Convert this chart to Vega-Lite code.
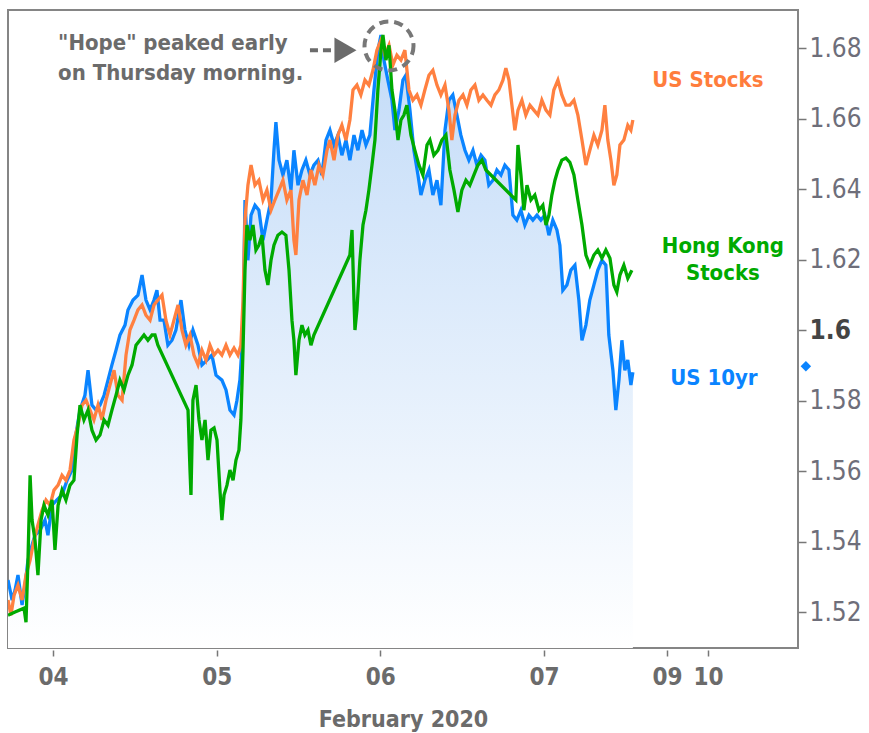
{
"$schema": "https://vega.github.io/schema/vega-lite/v6.json",
"width": 790, "height": 638,
"autosize": {"type": "none"},
"padding": {"left": 8, "top": 10, "right": 71, "bottom": 85},
"background": "white",
"config": {"view": {"stroke": "#858585", "strokeWidth": 2}, "font": "DejaVu Sans Condensed"},
"datasets": {
"us10": [
{"t":3.725,"v":1.5291},{"t":3.750,"v":1.5234},{"t":3.768,"v":1.5262},{"t":3.786,"v":1.5305},{"t":3.811,"v":1.5220},{"t":3.829,"v":1.5276},{"t":3.847,"v":1.5347},{"t":3.872,"v":1.5390},{"t":3.890,"v":1.5418},{"t":3.921,"v":1.5432},{"t":3.951,"v":1.5461},{"t":3.969,"v":1.5418},{"t":3.994,"v":1.5503},{"t":4.024,"v":1.5518},{"t":4.055,"v":1.5532},{"t":4.086,"v":1.5574},{"t":4.116,"v":1.5603},{"t":4.134,"v":1.5688},{"t":4.165,"v":1.5773},{"t":4.195,"v":1.5815},{"t":4.214,"v":1.5886},{"t":4.238,"v":1.5787},{"t":4.263,"v":1.5773},{"t":4.287,"v":1.5787},{"t":4.312,"v":1.5815},{"t":4.336,"v":1.5858},{"t":4.360,"v":1.5901},{"t":4.385,"v":1.5943},{"t":4.409,"v":1.5986},{"t":4.440,"v":1.6014},{"t":4.458,"v":1.6057},{"t":4.489,"v":1.6085},{"t":4.519,"v":1.6099},{"t":4.544,"v":1.6156},{"t":4.568,"v":1.6085},{"t":4.593,"v":1.6057},{"t":4.617,"v":1.6085},{"t":4.635,"v":1.6113},{"t":4.654,"v":1.6028},{"t":4.678,"v":1.6028},{"t":4.702,"v":1.5957},{"t":4.727,"v":1.5971},{"t":4.751,"v":1.6000},{"t":4.782,"v":1.6085},{"t":4.806,"v":1.6000},{"t":4.831,"v":1.5957},{"t":4.855,"v":1.6000},{"t":4.886,"v":1.5957},{"t":4.910,"v":1.5901},{"t":4.941,"v":1.5915},{"t":4.971,"v":1.5929},{"t":4.996,"v":1.5872},{"t":5.032,"v":1.5858},{"t":5.057,"v":1.5830},{"t":5.081,"v":1.5773},{"t":5.106,"v":1.5759},{"t":5.124,"v":1.5801},{"t":5.142,"v":1.5858},{"t":5.161,"v":1.6000},{"t":5.173,"v":1.6369},{"t":5.191,"v":1.6198},{"t":5.210,"v":1.6326},{"t":5.234,"v":1.6354},{"t":5.258,"v":1.6340},{"t":5.283,"v":1.6255},{"t":5.307,"v":1.6312},{"t":5.332,"v":1.6369},{"t":5.350,"v":1.6510},{"t":5.362,"v":1.6590},{"t":5.381,"v":1.6482},{"t":5.405,"v":1.6440},{"t":5.429,"v":1.6482},{"t":5.454,"v":1.6397},{"t":5.472,"v":1.6510},{"t":5.497,"v":1.6411},{"t":5.521,"v":1.6454},{"t":5.545,"v":1.6482},{"t":5.570,"v":1.6440},{"t":5.594,"v":1.6468},{"t":5.619,"v":1.6482},{"t":5.643,"v":1.6440},{"t":5.668,"v":1.6539},{"t":5.692,"v":1.6567},{"t":5.717,"v":1.6525},{"t":5.741,"v":1.6553},{"t":5.765,"v":1.6496},{"t":5.790,"v":1.6539},{"t":5.814,"v":1.6482},{"t":5.839,"v":1.6553},{"t":5.863,"v":1.6510},{"t":5.888,"v":1.6567},{"t":5.912,"v":1.6525},{"t":5.936,"v":1.6553},{"t":5.961,"v":1.6681},{"t":5.985,"v":1.6794},{"t":6.004,"v":1.6837},{"t":6.022,"v":1.6766},{"t":6.046,"v":1.6709},{"t":6.071,"v":1.6652},{"t":6.089,"v":1.6567},{"t":6.114,"v":1.6624},{"t":6.138,"v":1.6709},{"t":6.156,"v":1.6723},{"t":6.181,"v":1.6624},{"t":6.205,"v":1.6510},{"t":6.230,"v":1.6440},{"t":6.248,"v":1.6383},{"t":6.272,"v":1.6425},{"t":6.297,"v":1.6454},{"t":6.321,"v":1.6383},{"t":6.346,"v":1.6425},{"t":6.370,"v":1.6354},{"t":6.395,"v":1.6567},{"t":6.419,"v":1.6652},{"t":6.443,"v":1.6667},{"t":6.468,"v":1.6610},{"t":6.492,"v":1.6553},{"t":6.517,"v":1.6510},{"t":6.541,"v":1.6482},{"t":6.566,"v":1.6510},{"t":6.590,"v":1.6468},{"t":6.615,"v":1.6496},{"t":6.639,"v":1.6482},{"t":6.663,"v":1.6411},{"t":6.688,"v":1.6425},{"t":6.712,"v":1.6454},{"t":6.737,"v":1.6440},{"t":6.761,"v":1.6468},{"t":6.786,"v":1.6454},{"t":6.810,"v":1.6326},{"t":6.834,"v":1.6312},{"t":6.859,"v":1.6340},{"t":6.883,"v":1.6298},{"t":6.908,"v":1.6326},{"t":6.932,"v":1.6312},{"t":6.957,"v":1.6326},{"t":6.981,"v":1.6312},{"t":7.005,"v":1.6326},{"t":7.030,"v":1.6269},{"t":7.054,"v":1.6312},{"t":7.079,"v":1.6284},{"t":7.097,"v":1.6241},{"t":7.115,"v":1.6113},{"t":7.140,"v":1.6128},{"t":7.164,"v":1.6170},{"t":7.189,"v":1.6184},{"t":7.213,"v":1.6085},{"t":7.232,"v":1.5971},{"t":7.256,"v":1.6014},{"t":7.280,"v":1.6085},{"t":7.305,"v":1.6128},{"t":7.329,"v":1.6170},{"t":7.354,"v":1.6198},{"t":7.378,"v":1.6184},{"t":7.396,"v":1.5986},{"t":7.421,"v":1.5886},{"t":7.439,"v":1.5773},{"t":7.458,"v":1.5858},{"t":7.476,"v":1.5971},{"t":7.494,"v":1.5886},{"t":7.512,"v":1.5915},{"t":7.531,"v":1.5844},{"t":7.543,"v":1.5880}
],
"usstk": [
{"t":3.725,"v":1.5234},{"t":3.743,"v":1.5191},{"t":3.762,"v":1.5248},{"t":3.786,"v":1.5276},{"t":3.811,"v":1.5234},{"t":3.835,"v":1.5305},{"t":3.860,"v":1.5347},{"t":3.884,"v":1.5404},{"t":3.908,"v":1.5447},{"t":3.933,"v":1.5489},{"t":3.957,"v":1.5518},{"t":3.982,"v":1.5503},{"t":4.006,"v":1.5546},{"t":4.031,"v":1.5560},{"t":4.055,"v":1.5588},{"t":4.079,"v":1.5574},{"t":4.104,"v":1.5603},{"t":4.128,"v":1.5688},{"t":4.153,"v":1.5730},{"t":4.177,"v":1.5787},{"t":4.202,"v":1.5801},{"t":4.226,"v":1.5773},{"t":4.250,"v":1.5745},{"t":4.275,"v":1.5787},{"t":4.299,"v":1.5745},{"t":4.324,"v":1.5801},{"t":4.348,"v":1.5844},{"t":4.373,"v":1.5886},{"t":4.397,"v":1.5815},{"t":4.422,"v":1.5801},{"t":4.446,"v":1.5929},{"t":4.470,"v":1.6000},{"t":4.495,"v":1.6028},{"t":4.519,"v":1.6057},{"t":4.544,"v":1.6071},{"t":4.568,"v":1.6042},{"t":4.593,"v":1.6028},{"t":4.617,"v":1.6071},{"t":4.641,"v":1.6085},{"t":4.666,"v":1.6099},{"t":4.690,"v":1.6028},{"t":4.715,"v":1.5986},{"t":4.739,"v":1.6028},{"t":4.764,"v":1.6071},{"t":4.788,"v":1.6000},{"t":4.812,"v":1.5957},{"t":4.837,"v":1.5986},{"t":4.861,"v":1.5929},{"t":4.886,"v":1.5901},{"t":4.910,"v":1.5943},{"t":4.935,"v":1.5915},{"t":4.959,"v":1.5957},{"t":4.984,"v":1.5929},{"t":5.008,"v":1.5943},{"t":5.032,"v":1.5929},{"t":5.057,"v":1.5957},{"t":5.081,"v":1.5929},{"t":5.106,"v":1.5949},{"t":5.130,"v":1.5929},{"t":5.148,"v":1.5957},{"t":5.161,"v":1.6085},{"t":5.173,"v":1.6312},{"t":5.191,"v":1.6411},{"t":5.210,"v":1.6468},{"t":5.234,"v":1.6411},{"t":5.258,"v":1.6425},{"t":5.283,"v":1.6369},{"t":5.307,"v":1.6397},{"t":5.332,"v":1.6340},{"t":5.356,"v":1.6369},{"t":5.381,"v":1.6397},{"t":5.405,"v":1.6425},{"t":5.429,"v":1.6369},{"t":5.454,"v":1.6397},{"t":5.472,"v":1.6255},{"t":5.484,"v":1.6213},{"t":5.503,"v":1.6369},{"t":5.527,"v":1.6425},{"t":5.552,"v":1.6383},{"t":5.576,"v":1.6454},{"t":5.600,"v":1.6411},{"t":5.625,"v":1.6468},{"t":5.649,"v":1.6440},{"t":5.674,"v":1.6510},{"t":5.692,"v":1.6539},{"t":5.717,"v":1.6482},{"t":5.741,"v":1.6553},{"t":5.765,"v":1.6581},{"t":5.790,"v":1.6539},{"t":5.814,"v":1.6596},{"t":5.833,"v":1.6681},{"t":5.857,"v":1.6695},{"t":5.881,"v":1.6667},{"t":5.906,"v":1.6709},{"t":5.930,"v":1.6695},{"t":5.955,"v":1.6737},{"t":5.979,"v":1.6794},{"t":6.004,"v":1.6823},{"t":6.028,"v":1.6780},{"t":6.053,"v":1.6808},{"t":6.077,"v":1.6752},{"t":6.101,"v":1.6780},{"t":6.126,"v":1.6766},{"t":6.150,"v":1.6794},{"t":6.175,"v":1.6681},{"t":6.199,"v":1.6652},{"t":6.224,"v":1.6667},{"t":6.248,"v":1.6638},{"t":6.272,"v":1.6681},{"t":6.297,"v":1.6723},{"t":6.321,"v":1.6737},{"t":6.346,"v":1.6695},{"t":6.370,"v":1.6667},{"t":6.395,"v":1.6695},{"t":6.419,"v":1.6624},{"t":6.437,"v":1.6539},{"t":6.456,"v":1.6610},{"t":6.480,"v":1.6652},{"t":6.505,"v":1.6667},{"t":6.529,"v":1.6638},{"t":6.553,"v":1.6681},{"t":6.578,"v":1.6695},{"t":6.602,"v":1.6652},{"t":6.627,"v":1.6667},{"t":6.651,"v":1.6652},{"t":6.676,"v":1.6638},{"t":6.700,"v":1.6667},{"t":6.724,"v":1.6681},{"t":6.749,"v":1.6709},{"t":6.767,"v":1.6743},{"t":6.786,"v":1.6709},{"t":6.804,"v":1.6638},{"t":6.822,"v":1.6567},{"t":6.841,"v":1.6624},{"t":6.865,"v":1.6652},{"t":6.889,"v":1.6610},{"t":6.914,"v":1.6638},{"t":6.938,"v":1.6624},{"t":6.963,"v":1.6610},{"t":6.987,"v":1.6652},{"t":7.012,"v":1.6624},{"t":7.036,"v":1.6610},{"t":7.060,"v":1.6681},{"t":7.085,"v":1.6709},{"t":7.109,"v":1.6667},{"t":7.134,"v":1.6638},{"t":7.158,"v":1.6638},{"t":7.183,"v":1.6652},{"t":7.207,"v":1.6610},{"t":7.232,"v":1.6539},{"t":7.256,"v":1.6468},{"t":7.280,"v":1.6510},{"t":7.305,"v":1.6553},{"t":7.329,"v":1.6525},{"t":7.354,"v":1.6567},{"t":7.372,"v":1.6638},{"t":7.390,"v":1.6539},{"t":7.409,"v":1.6482},{"t":7.427,"v":1.6411},{"t":7.445,"v":1.6440},{"t":7.464,"v":1.6525},{"t":7.488,"v":1.6539},{"t":7.512,"v":1.6581},{"t":7.531,"v":1.6567},{"t":7.543,"v":1.6596}
],
"hk": [
{"t":3.725,"v":1.5191},{"t":3.768,"v":1.5200},{"t":3.823,"v":1.5211},{"t":3.835,"v":1.5171},{"t":3.847,"v":1.5347},{"t":3.860,"v":1.5588},{"t":3.872,"v":1.5461},{"t":3.890,"v":1.5404},{"t":3.908,"v":1.5305},{"t":3.927,"v":1.5461},{"t":3.945,"v":1.5503},{"t":3.969,"v":1.5475},{"t":3.994,"v":1.5518},{"t":4.012,"v":1.5376},{"t":4.031,"v":1.5503},{"t":4.055,"v":1.5546},{"t":4.079,"v":1.5518},{"t":4.104,"v":1.5560},{"t":4.128,"v":1.5574},{"t":4.147,"v":1.5702},{"t":4.165,"v":1.5787},{"t":4.189,"v":1.5745},{"t":4.214,"v":1.5773},{"t":4.238,"v":1.5716},{"t":4.263,"v":1.5688},{"t":4.287,"v":1.5702},{"t":4.312,"v":1.5745},{"t":4.336,"v":1.5730},{"t":4.360,"v":1.5773},{"t":4.385,"v":1.5815},{"t":4.409,"v":1.5858},{"t":4.434,"v":1.5830},{"t":4.458,"v":1.5872},{"t":4.483,"v":1.5901},{"t":4.507,"v":1.5957},{"t":4.531,"v":1.5971},{"t":4.556,"v":1.5986},{"t":4.580,"v":1.5971},{"t":4.605,"v":1.5986},{"t":4.623,"v":1.5986},{"t":4.641,"v":1.5957},{"t":4.825,"v":1.5773},{"t":4.837,"v":1.5603},{"t":4.843,"v":1.5532},{"t":4.855,"v":1.5801},{"t":4.874,"v":1.5844},{"t":4.892,"v":1.5745},{"t":4.910,"v":1.5688},{"t":4.929,"v":1.5745},{"t":4.947,"v":1.5631},{"t":4.965,"v":1.5716},{"t":4.984,"v":1.5722},{"t":5.002,"v":1.5688},{"t":5.020,"v":1.5546},{"t":5.032,"v":1.5461},{"t":5.045,"v":1.5532},{"t":5.063,"v":1.5560},{"t":5.081,"v":1.5603},{"t":5.100,"v":1.5574},{"t":5.118,"v":1.5631},{"t":5.136,"v":1.5659},{"t":5.148,"v":1.5745},{"t":5.161,"v":1.5943},{"t":5.173,"v":1.6170},{"t":5.185,"v":1.6298},{"t":5.203,"v":1.6255},{"t":5.222,"v":1.6298},{"t":5.240,"v":1.6227},{"t":5.258,"v":1.6241},{"t":5.277,"v":1.6269},{"t":5.295,"v":1.6170},{"t":5.313,"v":1.6128},{"t":5.332,"v":1.6198},{"t":5.350,"v":1.6241},{"t":5.374,"v":1.6269},{"t":5.399,"v":1.6278},{"t":5.423,"v":1.6269},{"t":5.442,"v":1.6170},{"t":5.460,"v":1.6028},{"t":5.472,"v":1.5971},{"t":5.484,"v":1.5872},{"t":5.503,"v":1.5971},{"t":5.521,"v":1.6014},{"t":5.539,"v":1.5986},{"t":5.558,"v":1.6000},{"t":5.576,"v":1.5957},{"t":5.594,"v":1.5986},{"t":5.814,"v":1.6213},{"t":5.827,"v":1.6284},{"t":5.839,"v":1.6085},{"t":5.845,"v":1.6000},{"t":5.857,"v":1.6057},{"t":5.875,"v":1.6198},{"t":5.894,"v":1.6298},{"t":5.912,"v":1.6340},{"t":5.930,"v":1.6397},{"t":5.949,"v":1.6468},{"t":5.967,"v":1.6539},{"t":5.985,"v":1.6681},{"t":6.004,"v":1.6794},{"t":6.016,"v":1.6837},{"t":6.034,"v":1.6766},{"t":6.053,"v":1.6808},{"t":6.071,"v":1.6681},{"t":6.089,"v":1.6624},{"t":6.108,"v":1.6539},{"t":6.126,"v":1.6596},{"t":6.144,"v":1.6610},{"t":6.162,"v":1.6638},{"t":6.187,"v":1.6553},{"t":6.211,"v":1.6510},{"t":6.236,"v":1.6468},{"t":6.260,"v":1.6440},{"t":6.285,"v":1.6525},{"t":6.303,"v":1.6539},{"t":6.327,"v":1.6496},{"t":6.352,"v":1.6510},{"t":6.376,"v":1.6539},{"t":6.401,"v":1.6553},{"t":6.425,"v":1.6454},{"t":6.450,"v":1.6397},{"t":6.474,"v":1.6335},{"t":6.498,"v":1.6397},{"t":6.523,"v":1.6425},{"t":6.547,"v":1.6411},{"t":6.572,"v":1.6440},{"t":6.596,"v":1.6468},{"t":6.621,"v":1.6482},{"t":6.645,"v":1.6454},{"t":6.828,"v":1.6369},{"t":6.841,"v":1.6525},{"t":6.859,"v":1.6440},{"t":6.877,"v":1.6340},{"t":6.896,"v":1.6411},{"t":6.920,"v":1.6369},{"t":6.944,"v":1.6383},{"t":6.969,"v":1.6340},{"t":6.993,"v":1.6354},{"t":7.012,"v":1.6298},{"t":7.030,"v":1.6326},{"t":7.048,"v":1.6383},{"t":7.067,"v":1.6425},{"t":7.085,"v":1.6454},{"t":7.109,"v":1.6482},{"t":7.134,"v":1.6488},{"t":7.158,"v":1.6476},{"t":7.183,"v":1.6440},{"t":7.207,"v":1.6369},{"t":7.232,"v":1.6298},{"t":7.256,"v":1.6213},{"t":7.280,"v":1.6184},{"t":7.305,"v":1.6213},{"t":7.329,"v":1.6227},{"t":7.354,"v":1.6204},{"t":7.378,"v":1.6227},{"t":7.403,"v":1.6204},{"t":7.427,"v":1.6128},{"t":7.445,"v":1.6108},{"t":7.464,"v":1.6156},{"t":7.488,"v":1.6184},{"t":7.512,"v":1.6147},{"t":7.537,"v":1.6170}
],
"notes": [
{"t":4.031,"v":1.6794,"label":"\"Hope\" peaked early"},
{"t":4.031,"v":1.6709,"label":"on Thursday morning."}
],
"names": [
{"t":8.001,"v":1.6709,"label":"US Stocks","s":"us"},
{"t":8.093,"v":1.6238,"label":"Hong Kong","s":"hk"},
{"t":8.093,"v":1.6161,"label":"Stocks","s":"hk"},
{"t":8.038,"v":1.5864,"label":"US 10yr","s":"ten"}
]
},
"encoding": {
"x": {"field": "t", "type": "quantitative",
 "scale": {"domain": [3.725, 8.552], "nice": false, "zero": false},
 "axis": {"title": "February 2020", "values": [4, 5, 6, 7, 7.751, 8.002],
  "labelExpr": "datum.value < 7.5 ? '0' + round(datum.value) : (datum.value < 7.9 ? '09' : '10')",
  "grid": false, "domain": false, "tickSize": 6, "tickColor": "#777777", "tickWidth": 1.5, "offset": 2,
  "labelFont": "DejaVu Sans Condensed", "labelFontWeight": "bold", "labelFontSize": 24, "labelColor": "#6b6b6b",
  "labelPadding": 9, "labelFlush": false,
  "titleFont": "DejaVu Sans Condensed", "titleFontSize": 23, "titleFontWeight": "bold", "titleColor": "#6b6b6b", "titlePadding": 19}},
"y": {"field": "v", "type": "quantitative",
 "scale": {"domain": [1.5098, 1.6908], "nice": false, "zero": false},
 "axis": {"orient": "right", "title": null, "values": [1.52, 1.54, 1.56, 1.58, 1.6, 1.62, 1.64, 1.66, 1.68],
  "labelExpr": "format(datum.value, '.2~f')",
  "grid": false, "domain": false, "tickSize": 8, "tickColor": "#777777", "tickWidth": 1.5,
  "labelFont": "DejaVu Sans Condensed", "labelFontSize": 26, "labelPadding": 3,
  "labelColor": {"condition": {"test": "abs(datum.value - 1.6) < 0.001", "value": "#444444"}, "value": "#6e6e7a"},
  "labelFontWeight": {"condition": {"test": "abs(datum.value - 1.6) < 0.001", "value": "bold"}, "value": "normal"}}}
},
"layer": [
{"data": {"name": "us10"}, "mark": {"type": "area", "clip": true, "color": {"gradient": "linear", "x1": 0, "y1": 0, "x2": 0, "y2": 1, "stops": [{"offset": 0, "color": "#c2dbf8"}, {"offset": 1, "color": "#ffffff"}]}},
 "encoding": {"y2": {"datum": 1.5098}}},
{"data": {"name": "us10"}, "mark": {"type": "line", "clip": true, "color": "#0a84ff", "strokeWidth": 3.3}},
{"data": {"name": "usstk"}, "mark": {"type": "line", "clip": true, "color": "#ff8040", "strokeWidth": 3.3}},
{"data": {"name": "hk"}, "mark": {"type": "line", "clip": true, "color": "#00aa00", "strokeWidth": 3.3}},
{"data": {"name": "notes"}, "mark": {"type": "text", "align": "left", "baseline": "alphabetic", "font": "DejaVu Sans Condensed", "fontWeight": "bold", "fontSize": 22, "color": "#6b6b6b"},
 "encoding": {"text": {"field": "label"}}},
{"data": {"values": [{"t": 5.570, "t2": 5.729, "v": 1.6794}]}, "mark": {"type": "rule", "color": "#6b6b6b", "strokeWidth": 4, "strokeDash": [8, 5]},
 "encoding": {"x2": {"field": "t2"}}},
{"data": {"values": [{"t": 5.787, "v": 1.6794}]}, "mark": {"type": "point", "shape": "triangle-right", "filled": true, "size": 650, "color": "#6b6b6b", "opacity": 1}},
{"data": {"values": [{"t": 6.053, "v": 1.6806}]}, "mark": {"type": "point", "shape": "circle", "filled": false, "size": 2400, "stroke": "#777777", "strokeWidth": 4, "strokeDash": [9, 6], "opacity": 1}},
{"data": {"name": "names"}, "mark": {"type": "text", "align": "center", "baseline": "middle", "font": "DejaVu Sans Condensed", "fontWeight": "bold", "fontSize": 22},
 "encoding": {"text": {"field": "label"}, "color": {"field": "s", "type": "nominal", "scale": {"domain": ["us", "hk", "ten"], "range": ["#ff7d3c", "#00aa00", "#0a84ff"]}, "legend": null}}},
{"data": {"values": [{"t": 8.600, "v": 1.5897}]}, "mark": {"type": "point", "shape": "diamond", "filled": true, "size": 110, "color": "#0a84ff", "opacity": 1, "clip": false}}
]
}
